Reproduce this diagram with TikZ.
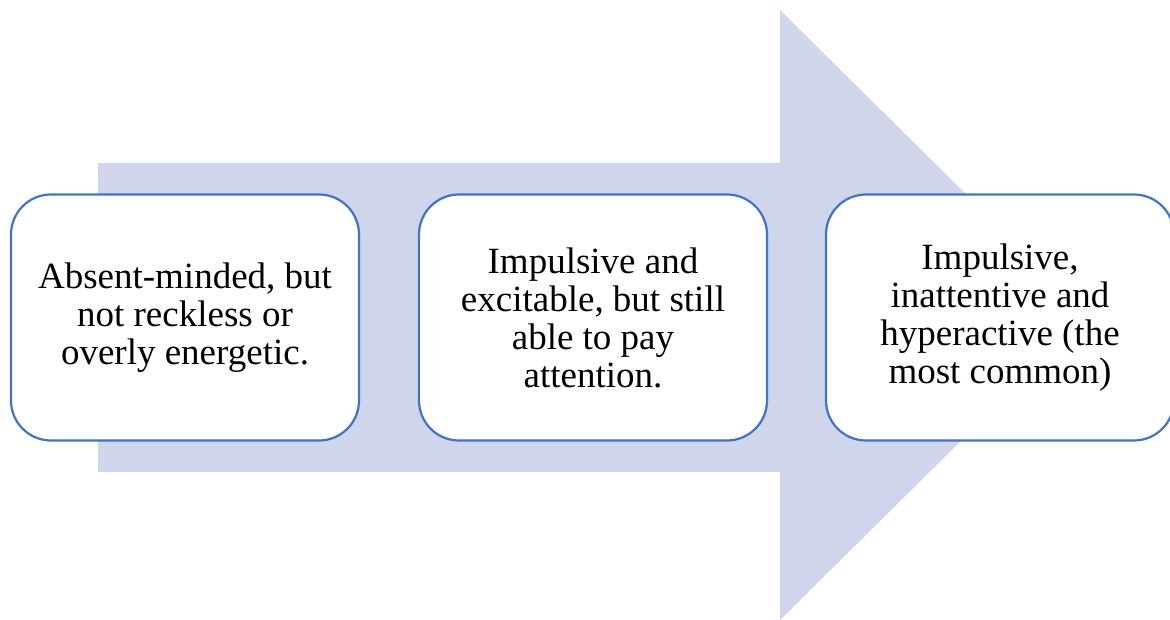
\documentclass[tikz,border=0pt]{standalone}
\usepackage{fontspec}
\setmainfont{Liberation Serif}
\definecolor{arrowfill}{HTML}{CFD5EA}
\definecolor{boxline}{HTML}{4472C4}
\tikzset{
  stagebox/.style={draw=boxline, line width=2.2pt, fill=white, rounded corners=40pt,
    minimum width=348pt, minimum height=246pt, align=center, inner sep=0pt,
    font=\fontsize{37}{38}\selectfont},
  bigarrow/.style={fill=arrowfill, draw=none}
}
\begin{document}
\begin{tikzpicture}[x=1pt,y=-1pt]
\useasboundingbox (0,0) rectangle (1170,620);
\fill[bigarrow] (98,163) -- (780,163) -- (780,10) -- (1088,315) -- (780,620) -- (780,472) -- (98,472) -- cycle;
\node[stagebox] (b1) at (185,317.5) {Absent-minded, but\\not reckless or\\overly energetic.};
\node[stagebox] (b2) at (593,317.5) {Impulsive and\\excitable, but still\\able to pay\\attention.};
\node[stagebox] (b3) at (1000,317.5) {Impulsive,\\inattentive and\\hyperactive (the\\most common)};
\end{tikzpicture}
\end{document}
